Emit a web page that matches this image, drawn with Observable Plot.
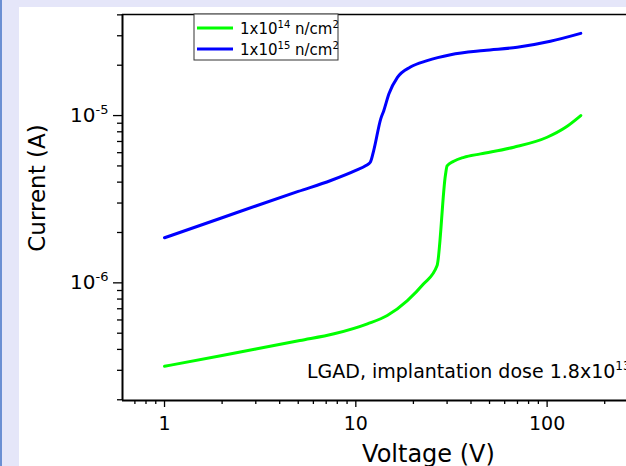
<!DOCTYPE html>
<html><head><meta charset="utf-8">
<script src="https://cdn.jsdelivr.net/npm/d3@7"></script>
<script src="https://cdn.jsdelivr.net/npm/@observablehq/plot@0.6"></script>
<style>
html,body{margin:0;padding:0;overflow:hidden;}
body{width:626px;height:466px;background:#e5e6f9;position:relative;font-family:"DejaVu Sans";}
#strip{position:absolute;left:0;top:0;width:2px;height:466px;background:#6b8fd3;}
#chart{position:absolute;left:19px;top:7px;width:607px;height:459px;overflow:hidden;background:#fff;}
</style></head><body><div id="strip"></div><div id="chart"></div>
<script>
// Series names
const seriesNames = ["1x10^14 n/cm^2", "1x10^15 n/cm^2"];
const seriesColors = ["#00ff00", "#0000ff"];
// Fluence 1e14
const voltage14 = [1, 2, 3, 5.1, 7.7, 11.5, 14.6, 18.6, 22.5, 26.6, 29.4, 30.0, 32.5, 36.7, 44.9, 67, 100, 125, 150];
const current14 = [3.17e-7, 3.68e-7, 4.02e-7, 4.52e-7, 4.96e-7, 5.69e-7, 6.38e-7, 7.84e-7, 9.8e-7, 1.27e-6, 4.4e-6, 5.0e-6, 5.33e-6, 5.63e-6, 5.9e-6, 6.47e-6, 7.42e-6, 8.51e-6, 1.0e-5];
// Fluence 1e15
const voltage15 = [1, 2, 3, 5, 7.4, 10, 11.3, 11.9, 12.4, 13.5, 14.0, 14.9, 16.5, 19.3, 23.6, 31.3, 46.7, 69.8, 104, 150];
const current15 = [1.86e-6, 2.45e-6, 2.88e-6, 3.52e-6, 4.09e-6, 4.7e-6, 5.03e-6, 5.26e-6, 6.18e-6, 9.56e-6, 1.07e-5, 1.35e-5, 1.69e-5, 1.95e-5, 2.13e-5, 2.31e-5, 2.45e-5, 2.56e-5, 2.78e-5, 3.1e-5];
// Axes
const xDomain = [0.603, 260];
const yDomain = [1.98e-7, 4.02e-5];
const xMajor = [1, 10, 100];
const xMinor = [0.7, 0.8, 0.9, 2, 3, 4, 5, 6, 7, 8, 9, 20, 30, 40, 50, 60, 70, 80, 90, 200];
const yMajor = [1e-6, 1e-5];
const yMinor = [2e-7,3e-7,4e-7,5e-7,6e-7,7e-7,8e-7,9e-7,2e-6,3e-6,4e-6,5e-6,6e-6,7e-6,8e-6,9e-6,2e-5,3e-5,4e-5];
const xTitle = "Voltage (V)";
const yTitle = "Current (A)";
const note = "LGAD, implantation dose 1.8x10^13 cm^-2";

const data = [
  ...voltage14.map((v, i) => ({V: v, I: current14[i], s: seriesNames[0]})),
  ...voltage15.map((v, i) => ({V: v, I: current15[i], s: seriesNames[1]}))
];

const svg = Plot.plot({
  width: 607, height: 459,
  marginLeft: 103, marginRight: 0, marginTop: 7, marginBottom: 66,
  style: {fontFamily: "DejaVu Sans", fontSize: "19px", color: "black", background: "white"},
  x: {type: "log", domain: xDomain, label: null},
  y: {type: "log", domain: yDomain, label: null},
  color: {domain: seriesNames, range: seriesColors},
  marks: [
    Plot.line(data, {x: "V", y: "I", z: "s", stroke: "s", strokeWidth: 3, curve: "monotone-x"}),
    Plot.ruleX([xDomain[0]], {strokeWidth: 2}),
    Plot.ruleY([yDomain[0]], {strokeWidth: 2}),
    Plot.ruleY([yDomain[1]], {strokeWidth: 1.5}),
    Plot.axisX({ticks: xMajor, tickSize: 7, tickPadding: 9, strokeWidth: 1.3, label: null, tickFormat: d => String(d)}),
    Plot.axisX({ticks: xMinor, tickSize: 4, strokeWidth: 1.3, label: null, tickFormat: () => ""}),
    Plot.axisY({ticks: yMajor, tickSize: 9, tickPadding: 5, strokeWidth: 1.3, label: null, tickFormat: d => "10^" + Math.round(Math.log10(d)), fontSize: 20}),
    Plot.axisY({ticks: yMinor, tickSize: 5, strokeWidth: 1.3, label: null, tickFormat: () => ""})
  ]
});

const S = d3.select(svg);
S.selectAll("text").each(function() {
  const t = this.textContent;
  const m = /^10\^(-?\d+)$/.exec(t);
  if (m) {
    const s = d3.select(this);
    s.text("10");
    s.append("tspan").attr("dy", "-8").attr("font-size", "13px").text(m[1]);
  }
});

// rich text helper: "a^b c^d" -> tspans
function rich(sel, str, supSize, rise) {
  const parts = str.split(/(\^-?\d+)/).filter(p => p.length);
  let up = false;
  parts.forEach(p => {
    if (p[0] === "^") {
      sel.append("tspan").attr("dy", -rise).attr("font-size", supSize + "px").text(p.slice(1));
      up = true;
    } else {
      const t = sel.append("tspan").text(p);
      if (up) { t.attr("dy", rise); up = false; }
    }
  });
}

// Legend
const lg = S.append("g").attr("font-family", "DejaVu Sans").attr("text-anchor", "start");
lg.append("rect").attr("x", 175).attr("y", 7).attr("width", 144).attr("height", 46)
  .attr("fill", "white").attr("stroke", "#333").attr("stroke-width", 1);
seriesNames.forEach((name, i) => {
  const yy = 21 + i * 21;
  lg.append("line").attr("x1", 178).attr("x2", 214).attr("y1", yy).attr("y2", yy)
    .attr("stroke", seriesColors[i]).attr("stroke-width", 3);
  const t = lg.append("text").attr("x", 221).attr("y", yy + 5.5).attr("font-size", "15px")
    .attr("text-anchor", "start").attr("fill", "black");
  rich(t, name, 10, 6);
});

// Annotation
const an = S.append("text").attr("x", 288).attr("y", 371).attr("font-size", "19px")
  .attr("text-anchor", "start").attr("font-family", "DejaVu Sans").attr("fill", "black");
rich(an, note, 12, 8);

// Axis titles
S.append("text").attr("x", 409.5).attr("y", 455).attr("text-anchor", "middle")
  .attr("font-size", "24px").attr("font-family", "DejaVu Sans").attr("fill", "black").text(xTitle);
S.append("text").attr("transform", "translate(26,181) rotate(-90)").attr("text-anchor", "middle")
  .attr("font-size", "23px").attr("font-family", "DejaVu Sans").attr("fill", "black").text(yTitle);

document.getElementById("chart").appendChild(svg);
</script></body></html>
